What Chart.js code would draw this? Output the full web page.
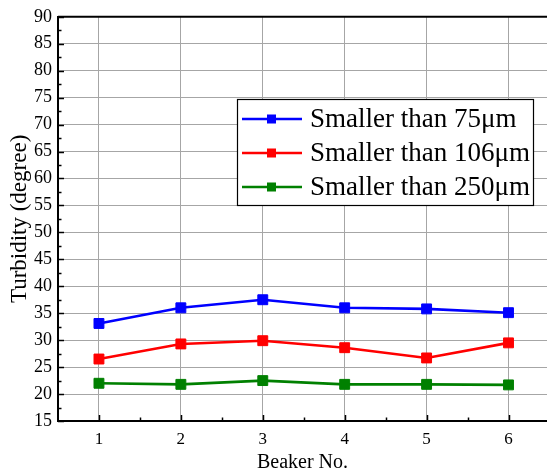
<!DOCTYPE html>
<html><head><meta charset="utf-8">
<script src="https://cdn.jsdelivr.net/npm/chart.js@4"></script>
<style>html,body{margin:0;padding:0;background:#fff}#wrap{width:547px;height:475px}</style>
</head><body><div id="wrap"><canvas id="c" width="547" height="475"></canvas></div>
<script>
const beakers = [1, 2, 3, 4, 5, 6];
const smaller75 = [33.1, 36.0, 37.5, 36.0, 35.8, 35.1];
const smaller106 = [26.5, 29.3, 29.9, 28.6, 26.7, 29.5];
const smaller250 = [22.0, 21.8, 22.5, 21.8, 21.8, 21.7];
const seriesLabels = ['Smaller than 75\u03bcm', 'Smaller than 106\u03bcm', 'Smaller than 250\u03bcm'];
const seriesColors = ['#0000ff', '#ff0000', '#008000'];
const yTicks = [15,20,25,30,35,40,45,50,55,60,65,70,75,80,85,90];

const FONT = "'Liberation Serif', 'Times New Roman', serif";

function mk(vals, i) {
  return {
    label: seriesLabels[i],
    data: beakers.map((b, k) => ({x: b, y: vals[k]})),
    borderColor: seriesColors[i], backgroundColor: seriesColors[i],
    borderWidth: 2.6, pointStyle: 'rect', pointRadius: 7, pointHoverRadius: 7,
    pointBorderWidth: 1, pointBorderColor: seriesColors[i], tension: 0
  };
}

const frame = {
  id: 'frame',
  afterDraw(chart) {
    const {ctx, chartArea: a, scales: {x, y}} = chart;
    ctx.save();
    ctx.strokeStyle = '#000';
    ctx.lineWidth = 2;
    ctx.beginPath(); ctx.moveTo(a.left, a.top); ctx.lineTo(a.right, a.top); ctx.stroke();
    ctx.lineWidth = 1.5;
    for (let v = 15; v <= 90; v += 2.5) {
      const py = Math.round(y.getPixelForValue(v)) + 0.5;
      const len = (v % 5 === 0) ? 6 : 3.5;
      ctx.beginPath(); ctx.moveTo(a.left, py); ctx.lineTo(a.left + len, py); ctx.stroke();
    }
    for (let v = 1; v <= 6.5; v += 0.5) {
      const px = Math.round(x.getPixelForValue(v)) + 0.5;
      if (px > a.right) continue;
      const len = (v % 1 === 0) ? 6 : 3.5;
      ctx.beginPath(); ctx.moveTo(px, a.bottom); ctx.lineTo(px, a.bottom - len); ctx.stroke();
    }
    const lx = 237, ly = 99, lw = 296, lh = 106;
    ctx.fillStyle = '#fff';
    ctx.fillRect(lx, ly, lw, lh);
    ctx.strokeStyle = '#000';
    ctx.lineWidth = 1.2;
    ctx.strokeRect(lx + 0.5, ly + 0.5, lw, lh);
    ctx.font = "27px " + FONT;
    ctx.textBaseline = 'middle';
    chart.data.datasets.forEach((ds, i) => {
      const cy = 119 + i * 34;
      ctx.strokeStyle = ds.borderColor;
      ctx.lineWidth = 2.6;
      ctx.beginPath(); ctx.moveTo(242, cy); ctx.lineTo(302, cy); ctx.stroke();
      ctx.fillStyle = ds.borderColor;
      ctx.fillRect(267, cy - 4.5, 9, 9);
      ctx.fillStyle = '#000';
      ctx.fillText(ds.label, 310, cy + 1);
    });
    ctx.restore();
  }
};

new Chart(document.getElementById('c'), {
  type: 'line',
  data: { datasets: [mk(smaller75, 0), mk(smaller106, 1), mk(smaller250, 2)] },
  options: {
    responsive: false, animation: false, devicePixelRatio: 1,
    layout: { autoPadding: false, padding: { top: 16, right: 0, left: 0, bottom: 0 } },
    plugins: { legend: { display: false }, tooltip: { enabled: false } },
    scales: {
      x: {
        type: 'linear', min: 0.5, max: 6.47,
        afterBuildTicks(s) { s.ticks = beakers.map(v => ({value: v})); },
        afterFit(s) { s.height = 54; },
        grid: { color: '#a6a6a6', lineWidth: 1, drawTicks: false },
        border: { display: true, color: '#000', width: 2 },
        ticks: { color: '#000', padding: 8, font: { family: FONT, size: 17 } },
        title: { display: true, text: 'Beaker No.', color: '#000', padding: { top: 4, bottom: 0 }, font: { family: FONT, size: 20 } }
      },
      y: {
        type: 'linear', min: 15, max: 90,
        afterBuildTicks(s) { s.ticks = yTicks.map(v => ({value: v})); },
        afterFit(s) { s.width = 58; },
        grid: { color: '#a6a6a6', lineWidth: 1, drawTicks: false },
        border: { display: true, color: '#000', width: 2 },
        ticks: { color: '#000', padding: 6, font: { family: FONT, size: 18 } },
        title: { display: true, text: 'Turbidity (degree)', color: '#000', padding: { top: 6, bottom: 2 }, font: { family: FONT, size: 23 } }
      }
    }
  },
  plugins: [frame]
});
</script></body></html>
